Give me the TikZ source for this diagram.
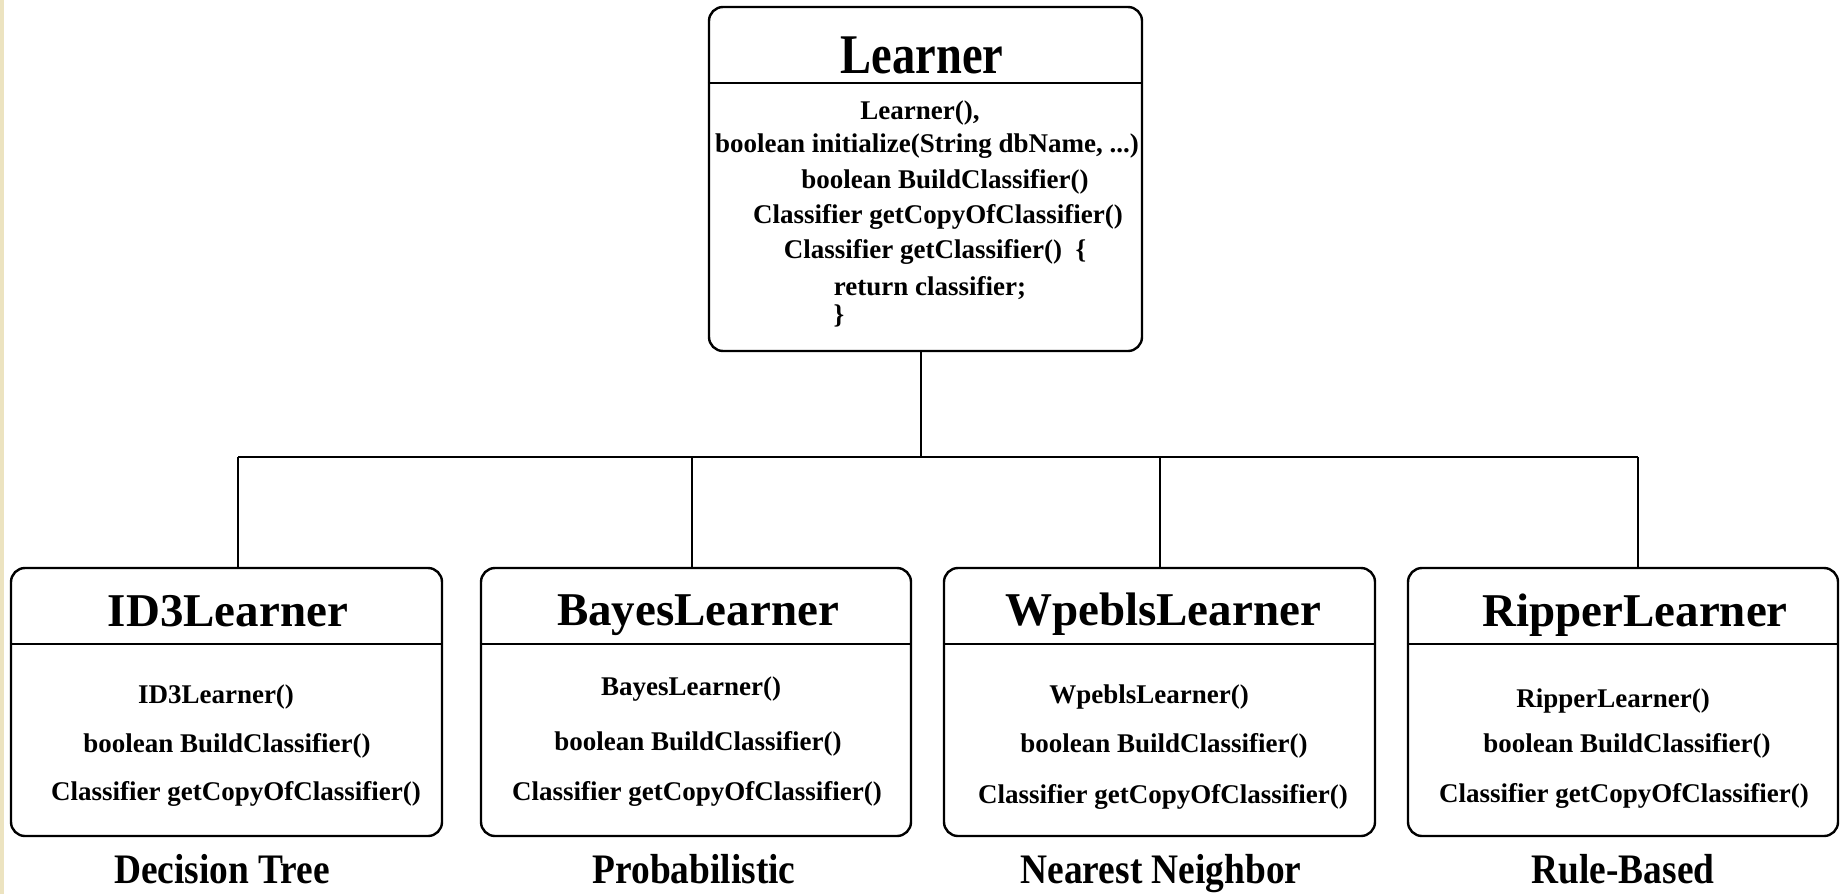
\documentclass[tikz,border=0pt]{standalone}
\usepackage{fontspec}
\setmainfont{Liberation Serif}
\newfontfamily\headserif{Liberation Serif}[FakeStretch=0.83]
\newfontfamily\kindserif{Liberation Serif}[FakeStretch=0.89]
\usepackage{xcolor}
\usepackage{tikz}
\usetikzlibrary{positioning, calc}
\definecolor{parchment}{RGB}{236,227,192}
\tikzstyle{line} = [line width=2pt,-]

\begin{document}
\begin{tikzpicture}[
    x=1pt, y=-1pt,
    classbox/.style={rectangle, draw, rounded corners=14pt, line width=2.4pt, inner sep=0pt, minimum height=268pt, minimum width=431pt},
    divider/.style={line width=2.2pt},
    title/.style={font=\bfseries\fontsize{47}{50}\selectfont, anchor=base, inner sep=0pt},
    member/.style={font=\bfseries\fontsize{27}{30}\selectfont, anchor=base, inner sep=0pt},
    kind/.style={font=\kindserif\bfseries\fontsize{42}{45}\selectfont, anchor=base, inner sep=0pt}
]
    \useasboundingbox (0,0) rectangle (1841,894);
    \fill[parchment] (0,0) rectangle (4,894);

    \node[classbox, minimum width=433pt, minimum height=344pt] (learner) at (925.5,179) {};
    \node[classbox] (id3) at (226.5,702) {};
    \node[classbox, minimum width=430pt] (bayes) at (696,702) {};
    \node[classbox] (wpebls) at (1159.5,702) {};
    \node[classbox, minimum width=430pt] (ripper) at (1623,702) {};

    \draw[divider] (learner.west |- 0,83) -- (learner.east |- 0,83);
    \draw[divider] (id3.west |- 0,644) -- (id3.east |- 0,644);
    \draw[divider] (bayes.west |- 0,644) -- (bayes.east |- 0,644);
    \draw[divider] (wpebls.west |- 0,644) -- (wpebls.east |- 0,644);
    \draw[divider] (ripper.west |- 0,644) -- (ripper.east |- 0,644);

    \node[title, font=\headserif\bfseries\fontsize{56}{60}\selectfont] (learnerT) at (922,73) {Learner};
    \node[member] (lm1) at (920,119) {Learner(),};
    \node[member] (lm2) at (927,152) {boolean initialize(String dbName, ...)};
    \node[member] (lm3) at (945,188) {boolean BuildClassifier()};
    \node[member] (lm4) at (938,223) {Classifier getCopyOfClassifier()};
    \node[member] (lm5) at (935,258) {Classifier getClassifier()\ \ \{};
    \node[member] (lm6) at (930,295) {return classifier;};
    \node[member] (lm7) at (839,323) {\}};

    \node[title] (id3T) at (228,626) {ID3Learner};
    \node[member] (id3m1) at (216,703) {ID3Learner()};
    \node[member] (id3m2) at (227,752) {boolean BuildClassifier()};
    \node[member] (id3m3) at (236,800) {Classifier getCopyOfClassifier()};

    \node[title] (bayesT) at (698,625) {BayesLearner};
    \node[member] (bayesm1) at (691,695) {BayesLearner()};
    \node[member] (bayesm2) at (698,750) {boolean BuildClassifier()};
    \node[member] (bayesm3) at (697,800) {Classifier getCopyOfClassifier()};

    \node[title] (wpeblsT) at (1163,625) {WpeblsLearner};
    \node[member] (wpeblsm1) at (1149,703) {WpeblsLearner()};
    \node[member] (wpeblsm2) at (1164,752) {boolean BuildClassifier()};
    \node[member] (wpeblsm3) at (1163,803) {Classifier getCopyOfClassifier()};

    \node[title] (ripperT) at (1635,626) {RipperLearner};
    \node[member] (ripperm1) at (1613,707) {RipperLearner()};
    \node[member] (ripperm2) at (1627,752) {boolean BuildClassifier()};
    \node[member] (ripperm3) at (1624,802) {Classifier getCopyOfClassifier()};

    \node[kind] (id3K) at (222,883) {Decision Tree};
    \node[kind] (bayesK) at (694,883) {Probabilistic};
    \node[kind] (wpeblsK) at (1161,883) {Nearest Neighbor};
    \node[kind] (ripperK) at (1623,883) {Rule-Based};

    \coordinate (bus) at (921,457);
    \coordinate (j1) at (238,457);
    \coordinate (j2) at (692,457);
    \coordinate (j3) at (1160,457);
    \coordinate (j4) at (1638,457);

    \draw[line] (bus |- learner.south) -- (bus);
    \draw[line] (j1) -- (j4);
    \draw[line] (j1) -- (j1 |- id3.north);
    \draw[line] (j2) -- (j2 |- bayes.north);
    \draw[line] (j3) -- (j3 |- wpebls.north);
    \draw[line] (j4) -- (j4 |- ripper.north);
\end{tikzpicture}
\end{document}
